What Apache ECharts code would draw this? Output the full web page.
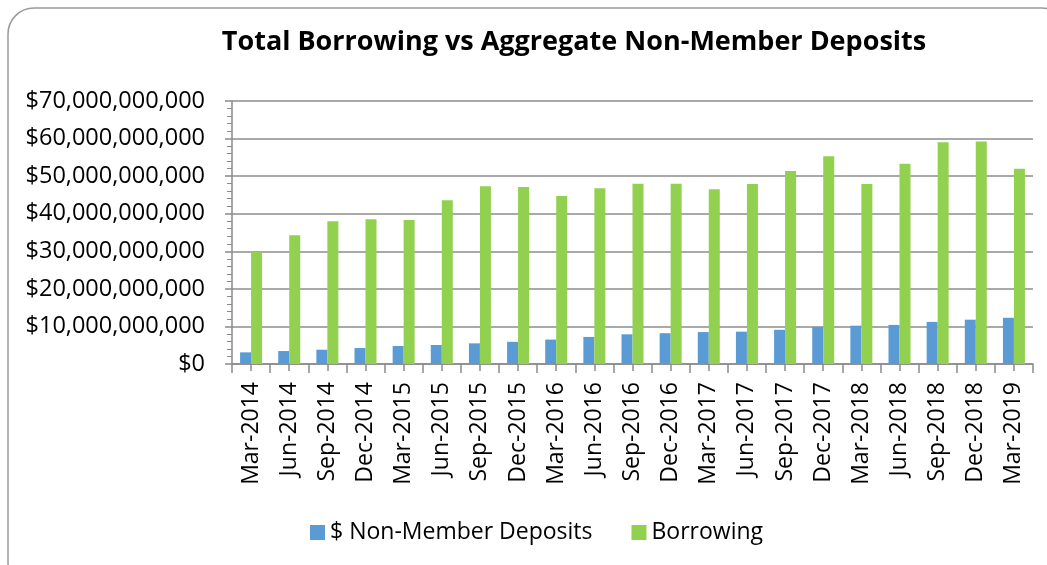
<!DOCTYPE html>
<html>
<head>
<meta charset="utf-8">
<script src="https://cdn.jsdelivr.net/npm/echarts@6/dist/echarts.min.js"></script>
<style>
  html, body { margin: 0; padding: 0; background: #fff; }
  #main { width: 1047px; height: 565px; }
</style>
</head>
<body>
<div id="main"></div>
<script>
var quarters = ['Mar-2014', 'Jun-2014', 'Sep-2014', 'Dec-2014', 'Mar-2015', 'Jun-2015', 'Sep-2015',
  'Dec-2015', 'Mar-2016', 'Jun-2016', 'Sep-2016', 'Dec-2016', 'Mar-2017', 'Jun-2017', 'Sep-2017',
  'Dec-2017', 'Mar-2018', 'Jun-2018', 'Sep-2018', 'Dec-2018', 'Mar-2019']

// billions of dollars
var nonMemberDeposits = [3.1, 3.45, 3.8, 4.25, 4.8, 5.05, 5.5, 5.9, 6.5, 7.2, 7.9,
  8.2, 8.5, 8.6, 9.1, 9.9, 10.2, 10.4, 11.2, 11.8, 12.3]
var borrowing = [29.9, 34.3, 38.0, 38.5, 38.3, 43.6, 47.3, 47.1, 44.7, 46.8, 48.0,
  48.0, 46.5, 47.9, 51.4, 55.3, 47.9, 53.3, 59.0, 59.2, 52.0]

var yTicks = [0, 10e9, 20e9, 30e9, 40e9, 50e9, 60e9, 70e9]

function toDollars(list) {
  return list.map(function(v) {
    return Math.round(v * 1e9)
  })
}

var myChart = echarts.init(document.getElementById('main'))
var font = '"Open Sans", sans-serif'

option = {
  backgroundColor: '#fff',
  animation: false,
  graphic: [
    {
      type: 'rect',
      shape: { x: 8, y: 8, width: 1060, height: 580, r: 26 },
      style: { fill: 'none', stroke: '#9a9a9a', lineWidth: 1.5 },
      silent: true
    }
  ],
  title: {
    text: 'Total Borrowing vs Aggregate Non-Member Deposits',
    left: 569,
    textAlign: 'center',
    top: 24,
    textStyle: {
      fontFamily: font,
      fontWeight: 'bold',
      fontSize: 27,
      color: '#000'
    }
  },
  legend: {
    left: 305,
    top: 516,
    icon: 'rect',
    itemWidth: 15,
    itemHeight: 15,
    itemGap: 39,
    textStyle: { fontFamily: font, fontSize: 23, color: '#000' },
    data: ['$ Non-Member Deposits', 'Borrowing']
  },
  grid: {
    left: 232,
    right: 14,
    top: 101,
    bottom: 201
  },
  xAxis: [
    {
      type: 'category',
      data: quarters,
      axisLine: { lineStyle: { color: '#8a8a8a', width: 1.5 } },
      axisTick: { show: true, interval: 0, length: 9, lineStyle: { color: '#8a8a8a', width: 1.5 } },
      axisLabel: {
        interval: 0,
        rotate: 90,
        margin: 18,
        fontFamily: font,
        fontSize: 23,
        color: '#000'
      }
    },
    {
      // ticks at category centers, like the Excel original
      type: 'category',
      data: quarters,
      position: 'bottom',
      axisLine: { show: false },
      axisTick: { show: true, alignWithLabel: true, interval: 0, length: 7, lineStyle: { color: '#8a8a8a', width: 1.5 } },
      axisLabel: { show: false }
    }
  ],
  yAxis: {
    type: 'value',
    min: yTicks[0],
    max: yTicks[yTicks.length - 1],
    interval: yTicks[1] - yTicks[0],
    axisLine: { show: true, lineStyle: { color: '#8a8a8a', width: 1.5 } },
    axisTick: { show: true, length: 7, lineStyle: { color: '#8a8a8a', width: 1.5 } },
    minorTick: { show: true, splitNumber: 5, length: 5, lineStyle: { color: '#8a8a8a' } },
    axisLabel: {
      margin: 27,
      fontFamily: font,
      fontSize: 23.5,
      color: '#000',
      formatter: function(v) {
        return '$' + v.toLocaleString('en-US')
      }
    },
    splitLine: { show: true, lineStyle: { color: '#8c8c8c', width: 1.5 } }
  },
  series: [
    {
      name: '$ Non-Member Deposits',
      type: 'bar',
      barWidth: 11,
      barGap: 0,
      itemStyle: { color: '#5b9bd5' },
      data: toDollars(nonMemberDeposits)
    },
    {
      name: 'Borrowing',
      type: 'bar',
      barWidth: 11,
      barGap: 0,
      itemStyle: { color: '#92d050' },
      data: toDollars(borrowing)
    }
  ]
}
myChart.setOption(option)
window.onresize = function() {
  myChart.resize()
}
</script>
</body>
</html>
